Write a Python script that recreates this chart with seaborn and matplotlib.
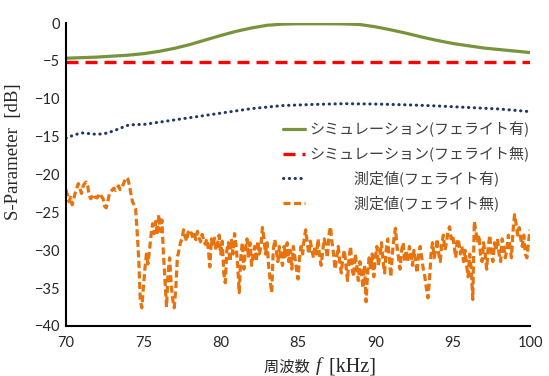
import numpy as np
import matplotlib
matplotlib.use("Agg")
import matplotlib.pyplot as plt
import seaborn as sns
from matplotlib.offsetbox import TextArea, HPacker, AnchoredOffsetbox

# シミュレーション(フェライト有)
sim_on_f = [70, 72, 74, 75, 76, 77, 78, 79, 80, 81, 82, 83, 84, 85, 86,
            87, 88, 89, 90, 91, 92, 93, 94, 95, 96, 97, 98, 99, 100]
sim_on_db = [-4.65, -4.5, -4.25, -4.05, -3.75, -3.35, -2.85, -2.25, -1.65,
             -1.1, -0.65, -0.3, -0.15, -0.1, -0.1, -0.1, -0.12, -0.2, -0.5,
             -0.9, -1.35, -1.85, -2.3, -2.7, -3.0, -3.3, -3.5, -3.7, -3.9]

# シミュレーション(フェライト無)
sim_off_f = [70, 100]
sim_off_db = [-5.2, -5.2]

# 測定値(フェライト有)
meas_on_f = [70, 70.5, 71, 71.5, 72, 72.5, 73, 73.5, 74, 74.5, 75, 76, 77,
             78, 79, 80, 81, 82, 83, 84, 86, 88, 90, 92, 94, 96, 98, 100]
meas_on_db = [-15.2, -14.8, -14.5, -14.6, -14.7, -14.6, -14.3, -13.9, -13.5,
              -13.4, -13.4, -13.1, -12.8, -12.5, -12.2, -11.9, -11.6, -11.3,
              -11.1, -10.9, -10.75, -10.65, -10.7, -10.8, -10.95, -11.15,
              -11.35, -11.7]

# 測定値(フェライト無), 70-100 kHz every 0.1 kHz (one row = 1 kHz)
meas_off_db = [
    -22.0, -22.8, -23.6, -23.0, -24.0, -23.2, -22.4, -21.8, -21.2, -21.8,
    -22.5, -21.6, -21.2, -21.0, -21.5, -22.8, -23.2, -22.9, -22.6, -23.0,
    -23.1, -22.8, -22.5, -22.9, -23.2, -24.2, -24.4, -23.6, -22.6, -22.3,
    -22.0, -21.8, -22.1, -21.7, -21.5, -22.0, -21.9, -21.3, -20.8, -20.4,
    -20.6, -21.4, -22.6, -23.6, -24.0, -24.5, -27.5, -31.0, -36.5, -37.6,
    -35.0, -32.5, -30.5, -31.8, -30.0, -28.0, -26.5, -27.8, -26.2, -28.0,
    -25.3, -27.5, -26.0, -30.5, -34.0, -37.5, -33.0, -31.0, -34.5, -36.5,
    -37.6, -35.0, -31.0, -30.0, -29.0, -28.5, -27.3, -28.2, -28.8, -27.6,
    -28.0, -27.7, -28.4, -27.9, -28.6, -27.5, -28.3, -28.9, -27.9, -28.6,
    -29.2, -28.5, -29.8, -32.2, -28.5, -29.5, -28.4, -30.0, -29.2, -28.0,
    -30.5, -28.8, -33.0, -34.3, -30.0, -29.0, -31.5, -28.5, -30.5, -27.8,
    -29.5, -32.0, -35.6, -31.0, -29.0, -32.5, -30.0, -28.5, -31.0, -29.0,
    -32.0, -30.5, -29.5, -31.5, -28.8, -30.5, -29.5, -27.0, -28.5, -30.5,
    -29.0, -32.0, -34.0, -35.6, -30.0, -28.6, -30.0, -31.5, -29.5, -31.0,
    -32.0, -29.5, -30.8, -29.0, -31.5, -30.0, -32.5, -29.5, -31.0, -32.5,
    -33.8, -31.0, -29.5, -30.5, -28.5, -27.3, -29.0, -30.5, -28.8, -30.0,
    -31.0, -29.5, -30.5, -28.5, -31.0, -32.0, -30.0, -28.5, -29.5, -31.0,
    -28.0, -26.9, -29.0, -30.5, -32.5, -31.0, -29.5, -31.5, -33.0, -31.0,
    -30.0, -32.0, -34.0, -31.0, -29.5, -32.5, -33.5, -30.5, -32.0, -34.0,
    -31.5, -33.0, -35.0, -32.0, -36.8, -33.0, -31.0, -32.5, -30.5, -33.5,
    -31.0, -29.5, -32.0, -30.5, -29.0, -31.5, -33.0, -30.0, -28.5, -31.0,
    -33.5, -30.5, -28.5, -27.1, -29.5, -31.0, -32.5, -30.0, -29.0, -31.5,
    -30.0, -31.5, -29.5, -30.5, -32.0, -30.0, -31.5, -33.0, -30.5, -29.5,
    -31.0, -32.5, -33.5, -35.0, -36.3, -34.0, -30.5, -29.0, -31.0, -30.0,
    -28.5, -30.5, -31.5, -29.0, -28.0, -30.0, -29.0, -27.5, -26.9, -28.5,
    -28.0, -29.5, -31.0, -28.5, -29.0, -30.5, -29.5, -31.5, -30.0, -32.0,
    -33.5, -30.5, -32.5, -36.5, -26.2, -27.5, -29.0, -28.0, -30.5, -31.5,
    -29.0, -30.5, -32.5, -29.5, -28.0, -30.5, -31.5, -29.0, -30.0, -28.5,
    -30.5, -31.5, -28.5, -29.5, -31.0, -30.0, -28.0, -29.5, -31.0, -27.5,
    -25.3, -26.5, -28.0, -27.0, -28.5, -29.5, -28.0, -30.5, -31.0, -29.0,
    -27.3,
]
meas_off_f = np.linspace(70, 100, len(meas_off_db))

labels = ["シミュレーション(フェライト有)",
          "シミュレーション(フェライト無)",
          "\u3000\u3000\u3000測定値(フェライト有)",
          "\u3000\u3000\u3000測定値(フェライト無)"]
x_ticks = [70, 75, 80, 85, 90, 95, 100]
y_ticks = [0, -5, -10, -15, -20, -25, -30, -35, -40]

sns.set_theme(style="white")
plt.rcParams["font.family"] = ["Lato", "Noto Sans CJK JP", "DejaVu Sans"]

fig, ax = plt.subplots(figsize=(5.49, 3.76), dpi=100)
fig.subplots_adjust(left=0.1202, right=0.9654, top=0.9388, bottom=0.133)

sns.lineplot(x=sim_on_f, y=sim_on_db, ax=ax, color="#77933C", linewidth=2.3,
             label=labels[0], estimator=None)
sns.lineplot(x=sim_off_f, y=sim_off_db, ax=ax, color="#FF0000", linewidth=2.4,
             linestyle=(0, (3.6, 2.1)), label=labels[1], estimator=None)
sns.lineplot(x=meas_on_f, y=meas_on_db, ax=ax, color="#1F3864", linewidth=2.2,
             linestyle=(0, (0.1, 1.8)), dash_capstyle="round",
             label=labels[2], estimator=None)
sns.lineplot(x=meas_off_f, y=meas_off_db, ax=ax, color="#E8720C", linewidth=2.3,
             linestyle=(0, (2.2, 1.1)), label=labels[3], estimator=None)

ax.set_xlim(70, 100)
ax.set_ylim(-40, 0)
ax.set_xticks(x_ticks)
ax.set_yticks(y_ticks)
ax.tick_params(axis="both", length=0, labelsize=10.5, labelcolor="#262626")
ax.tick_params(axis="y", pad=4)
ax.tick_params(axis="x", pad=7)
for s in ["top", "right"]:
    ax.spines[s].set_visible(False)
for s in ["left", "bottom"]:
    ax.spines[s].set_color("black")
    ax.spines[s].set_linewidth(1.5)

ax.set_ylabel("S-Parameter  [dB]", family="Liberation Serif", fontsize=13.5,
              color="#262626")
ax.yaxis.set_label_coords(-0.095, 0.574)
ax.set_xlabel("")

# x label: 周波数 f [kHz] with italic f
parts = [TextArea("周波数 ", textprops=dict(family=["Noto Sans CJK JP"], size=11, color="#262626")),
         TextArea("f", textprops=dict(family="Liberation Serif", style="italic", size=14, color="#262626")),
         TextArea(" [kHz]", textprops=dict(family="Liberation Serif", size=14.5, color="#262626"))]
box = HPacker(children=parts, align="baseline", pad=0, sep=2)
anchored = AnchoredOffsetbox(loc="center", child=box, frameon=False, pad=0,
                             bbox_to_anchor=(0.547, -0.135),
                             bbox_transform=ax.transAxes, borderpad=0)
ax.add_artist(anchored)

leg = ax.legend(loc="upper left", bbox_to_anchor=(0.468, 0.675), frameon=False,
                handlelength=1.45, handletextpad=0.3, labelspacing=0.6,
                borderpad=0, borderaxespad=0,
                prop=dict(family=["Noto Sans CJK JP"], size=10.8))
for t in leg.get_texts():
    t.set_color("#404040")

fig.savefig("out.png", dpi=100)
